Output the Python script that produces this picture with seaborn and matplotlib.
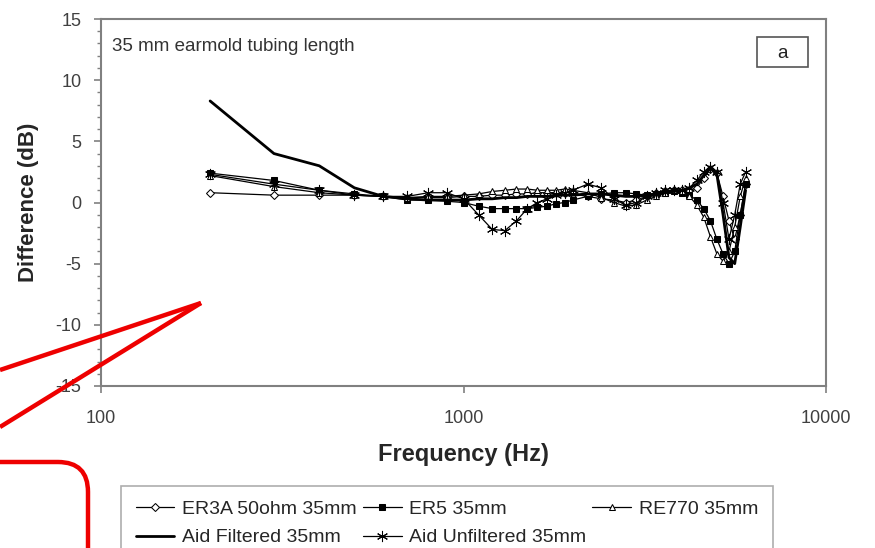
import numpy as np
import pandas as pd
import matplotlib
matplotlib.use("Agg")
import matplotlib.pyplot as plt
import seaborn as sns
from matplotlib.patches import FancyBboxPatch, Rectangle
from matplotlib.lines import Line2D
from matplotlib.transforms import IdentityTransform
from matplotlib.ticker import MultipleLocator, NullLocator, FixedLocator

freq = [200, 300, 400, 500, 600, 700, 800, 900, 1000, 1100, 1200, 1300, 1400,
        1500, 1600, 1700, 1800, 1900, 2000, 2200, 2400, 2600, 2800, 3000, 3200,
        3400, 3600, 3800, 4000, 4200, 4400, 4600, 4800, 5000, 5200, 5400, 5600,
        5800, 6000]

er3a = [0.8, 0.6, 0.6, 0.6, 0.5, 0.4, 0.4, 0.4, 0.5, 0.5, 0.6, 0.6, 0.7,
        0.7, 0.8, 0.8, 0.8, 0.8, 0.7, 0.5, 0.3, 0.2, 0.0, 0.2, 0.5,
        0.8, 0.9, 1.0, 1.0, 1.0, 1.2, 2.0, 2.7, 2.4, 0.5, -1.5, -3.0,
        -1.0, 1.5]
er5 = [2.4, 1.8, 1.0, 0.7, 0.5, 0.2, 0.2, 0.1, 0.0, -0.3, -0.5, -0.5, -0.5,
       -0.5, -0.4, -0.3, -0.1, 0.0, 0.2, 0.5, 0.7, 0.8, 0.8, 0.7, 0.6,
       0.7, 0.8, 0.9, 0.8, 0.6, 0.2, -0.5, -1.5, -3.0, -4.2, -5.0, -4.0,
       -1.0, 1.5]
re770 = [2.2, 1.3, 0.8, 0.6, 0.5, 0.4, 0.5, 0.5, 0.6, 0.7, 0.9, 1.0, 1.1,
         1.1, 1.0, 1.0, 1.0, 1.1, 1.0, 0.8, 0.4, 0.0, -0.3, -0.2, 0.2,
         0.5, 0.8, 1.0, 0.9, 0.5, -0.2, -1.2, -2.8, -4.2, -4.8, -4.0, -2.0,
         0.5, 2.0]
aid_filtered = [8.3, 4.0, 3.0, 1.2, 0.5, 0.3, 0.2, 0.2, 0.2, 0.3, 0.3, 0.4, 0.4,
                0.5, 0.5, 0.5, 0.6, 0.6, 0.6, 0.7, 0.7, 0.6, 0.5, 0.5, 0.6,
                0.7, 0.8, 0.9, 1.0, 1.2, 1.5, 2.2, 2.8, 2.3, -1.0, -4.5, -5.0,
                -2.0, 1.0]
aid_unfiltered = [2.3, 1.5, 1.0, 0.6, 0.5, 0.5, 0.8, 0.8, 0.3, -1.0, -2.2, -2.3, -1.5,
                  -0.5, 0.0, 0.3, 0.6, 0.8, 1.0, 1.5, 1.2, 0.3, -0.2, 0.0, 0.5,
                  0.8, 1.0, 1.0, 1.0, 1.2, 1.8, 2.5, 2.9, 2.5, 0.0, -3.0, -1.0,
                  1.5, 2.5]

labels = ["ER3A 50ohm 35mm", "ER5 35mm", "RE770 35mm",
          "Aid Filtered 35mm", "Aid Unfiltered 35mm"]
series = [er3a, er5, re770, aid_filtered, aid_unfiltered]
xtick_labels = ["100", "1000", "10000"]

sns.set_style("ticks")
plt.rcParams["font.family"] = ["Liberation Sans", "DejaVu Sans"]
plt.rcParams["axes.unicode_minus"] = False

fig = plt.figure(figsize=(8.75, 5.48), dpi=100)
ax = fig.add_axes([101 / 875, 1 - 386 / 548, 725 / 875, 367 / 548])

asterisk = (6, 2, 0)
styles = {
    "ER3A 50ohm 35mm": dict(marker="D", markersize=4, markerfacecolor="white",
                            markeredgecolor="black", linewidth=0.9),
    "ER5 35mm": dict(marker="s", markersize=5, markerfacecolor="black",
                     markeredgecolor="black", linewidth=0.9),
    "RE770 35mm": dict(marker="^", markersize=5, markerfacecolor="white",
                       markeredgecolor="black", linewidth=0.9),
    "Aid Filtered 35mm": dict(marker=None, linewidth=2.0),
    "Aid Unfiltered 35mm": dict(marker=asterisk, markersize=8,
                                markeredgecolor="black", linewidth=0.9),
}

handles = {}
for lab, vals in zip(labels, series):
    st = styles[lab]
    sns.lineplot(x=freq, y=vals, ax=ax, color="black", label=lab,
                 estimator=None, sort=False, **st)
    handles[lab] = ax.get_lines()[-1]
if ax.get_legend() is not None:
    ax.get_legend().remove()

ax.set_xscale("log")
ax.set_xlim(100, 10000)
ax.set_ylim(-15, 15)
ax.xaxis.set_major_locator(FixedLocator([100, 1000, 10000]))
ax.xaxis.set_minor_locator(NullLocator())
ax.set_xticklabels(xtick_labels)
ax.yaxis.set_major_locator(MultipleLocator(5))
ax.yaxis.set_minor_locator(MultipleLocator(1))
ax.tick_params(axis="both", which="major", direction="out", length=5,
               width=1.2, color="#808080", labelsize=13, labelcolor="#404040")
ax.tick_params(axis="y", which="minor", direction="out", length=3,
               width=1.0, color="#808080")
ax.tick_params(axis="x", pad=12)
ax.tick_params(axis="y", pad=9)
for sp in ax.spines.values():
    sp.set_color("#808080")
    sp.set_linewidth(1.5)
    sp.set_visible(True)

ax.set_xlabel("Frequency (Hz)", fontsize=17, fontweight="bold", labelpad=12)
ax.set_ylabel("Difference (dB)", fontsize=16, fontweight="bold", labelpad=12)

ax.text(0.015, 0.925, "35 mm earmold tubing length", transform=ax.transAxes,
        fontsize=13.5, color="#333333", ha="left", va="center")
ax.add_patch(Rectangle((0.905, 0.869), 0.070, 0.082, transform=ax.transAxes,
                       facecolor="white", edgecolor="#555555", linewidth=1.2,
                       zorder=5))
ax.text(0.940, 0.907, "a", transform=ax.transAxes, fontsize=13.5,
        color="#222222", ha="center", va="center", zorder=6)

order = ["ER3A 50ohm 35mm", "Aid Filtered 35mm", "ER5 35mm",
         "Aid Unfiltered 35mm", "RE770 35mm"]
leg = fig.legend([handles[k] for k in order], order, ncol=3,
                 loc="upper left", bbox_to_anchor=(121 / 875, 1 - 486 / 548),
                 borderaxespad=0, fontsize=14, frameon=True, fancybox=False,
                 edgecolor="#999999", handlelength=2.0, handletextpad=0.4,
                 columnspacing=0.3, labelspacing=0.55, borderpad=0.75)
leg.get_frame().set_linewidth(1.2)

# red overlay annotations (display pixel coordinates, origin bottom-left)
H = 548
def P(x, y):
    return (x, H - y)
for (x0, y0) in [(0, 370), (0, 427)]:
    l = Line2D([P(x0, y0)[0], P(201, 303)[0]], [P(x0, y0)[1], P(201, 303)[1]],
               color="#ee0000", linewidth=3.2, transform=IdentityTransform(),
               solid_capstyle="butt")
    fig.add_artist(l)
box = FancyBboxPatch((-60, H - 640), 60 + 88, 640 - 462,
                     boxstyle="round,pad=0,rounding_size=30",
                     facecolor="none", edgecolor="#ee0000", linewidth=3.2,
                     transform=IdentityTransform())
fig.add_artist(box)

fig.savefig("out.png", dpi=100)
